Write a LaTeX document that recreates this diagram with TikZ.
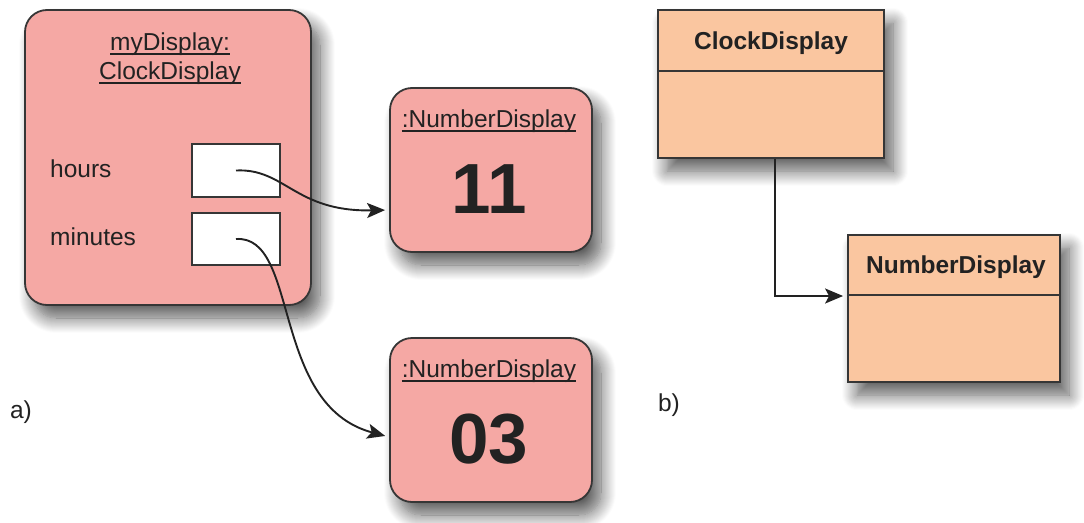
\documentclass[tikz,border=0pt]{standalone}
\usepackage{fontspec}
\setmainfont{Liberation Sans}
\usetikzlibrary{arrows.meta,shadows.blur}
\definecolor{objfill}{HTML}{F5A8A4}
\definecolor{clsfill}{HTML}{FAC6A0}
\definecolor{edgecol}{HTML}{363636}
\definecolor{inkcol}{HTML}{222222}
\newsavebox\ulbox
% underline drawn as a rule a few points below the baseline
\newcommand{\ulin}[1]{\sbox\ulbox{#1}\rlap{\rule[-4.5pt]{\wd\ulbox}{1.7pt}}\usebox\ulbox}
\tikzset{
  softshadow/.style={blur shadow={shadow xshift=9pt,shadow yshift=-13pt,shadow blur radius=15pt,shadow opacity=65,shadow blur steps=16}},
  objbox/.style={draw=edgecol,line width=1.8pt,fill=objfill,rounded corners=22pt,inner sep=0pt,softshadow},
  fieldbox/.style={draw=edgecol,line width=1.8pt,fill=white,inner sep=0pt},
  clsbox/.style={draw=edgecol,line width=1.8pt,fill=clsfill,inner sep=0pt,softshadow},
  txt/.style={inner sep=0pt,text=inkcol,font=\fontsize{24.5}{28}\selectfont},
  bigtxt/.style={inner sep=0pt,text=inkcol,font=\fontsize{71}{75}\selectfont\bfseries},
  clstxt/.style={inner sep=0pt,text=inkcol,font=\fontsize{24.5}{28}\selectfont\bfseries},
  link/.style={draw=inkcol,line width=1.9pt,shorten >=4pt,-{Stealth[length=18pt,width=15pt,inset=4pt]}}
}
\begin{document}
\begin{tikzpicture}[x=1pt,y=-1pt]
\useasboundingbox (0,0) rectangle (1084,522);

% ---- a) object diagram ----
\node[objbox,minimum width=286pt,minimum height=295pt] (clock) at (168,157.5) {};
\node[txt,anchor=base] (cname1) at (170,50) {\ulin{myDisplay:}};
\node[txt,anchor=base] (cname2) at (170,79) {\ulin{ClockDisplay}};
\node[txt,anchor=base west] (hlbl) at (50,177) {hours};
\node[txt,anchor=base west] (mlbl) at (50,245) {minutes};
\node[fieldbox,minimum width=88pt,minimum height=53pt] (hf) at (236,170.5) {};
\node[fieldbox,minimum width=88pt,minimum height=52pt] (mf) at (236,239) {};

\node[objbox,minimum width=202pt,minimum height=164pt] (nd1) at (491,170) {};
\node[txt,anchor=base] (nd1name) at (489,127) {\ulin{:NumberDisplay}};
\node[bigtxt,anchor=base] (nd1val) at (489,213) {11};

\node[objbox,minimum width=202pt,minimum height=164pt] (nd2) at (491,420) {};
\node[txt,anchor=base] (nd2name) at (489,377) {\ulin{:NumberDisplay}};
\node[bigtxt,anchor=base] (nd2val) at (489,463) {03};

\draw[link] (hf.center) .. controls (285,168) and (295,212) .. ([yshift=-40pt]nd1.west);
\draw[link] (mf.center) .. controls (300,235) and (270,405) .. ([yshift=-17pt]nd2.west);

\node[txt,anchor=base] (lbla) at (21,418) {a)};

% ---- b) class diagram ----
\node[clsbox,minimum width=226pt,minimum height=148pt] (cd) at (771,84) {};
\draw[draw=edgecol,line width=1.8pt] ([yshift=-62pt]cd.north west) -- ([yshift=-62pt]cd.north east);
\node[clstxt,anchor=base] (cdname) at (771,49) {ClockDisplay};

\node[clsbox,minimum width=212pt,minimum height=147pt] (ndc) at (954,308.5) {};
\draw[draw=edgecol,line width=1.8pt] ([yshift=-61pt]ndc.north west) -- ([yshift=-61pt]ndc.north east);
\node[clstxt,anchor=base] (ndcname) at (956,273) {NumberDisplay};

\draw[link] ([xshift=4pt]cd.south) |- ([yshift=12.5pt]ndc.west);

\node[txt,anchor=base] (lblb) at (669,411) {b)};
\end{tikzpicture}
\end{document}
